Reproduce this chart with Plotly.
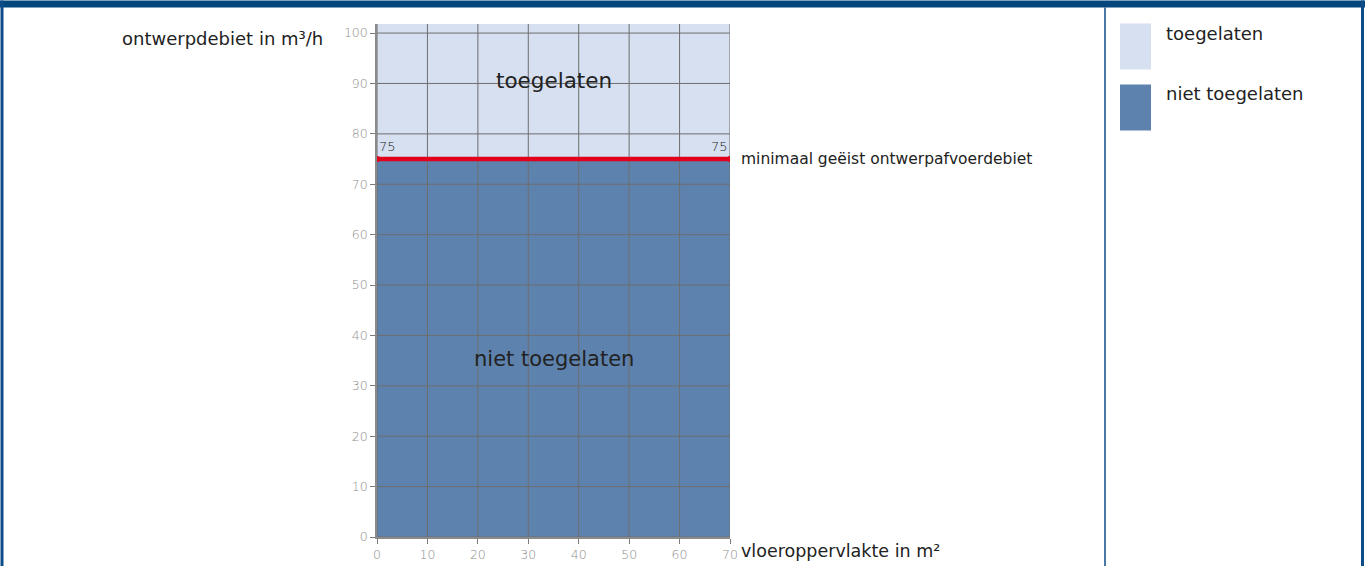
import plotly.graph_objects as go

# ---- data ----
x_ticks = [0, 10, 20, 30, 40, 50, 60, 70]
y_ticks = [0, 10, 20, 30, 40, 50, 60, 70, 80, 90, 100]
area_x = [0, 70]
min_debiet = [75, 75]
y_top = 101.8
labels_zones = ["toegelaten", "niet toegelaten"]
zone_colors = ["#d6e0f0", "#5d82ae"]
y_title = "ontwerpdebiet in m³/h"
x_title = "vloeroppervlakte in m²"
line_label = "minimaal geëist ontwerpafvoerdebiet"

W, H = 1365, 566
L, R, T, B = 377, 730, 23.5, 537
FONT = "DejaVu Sans"
TXT = "#222222"

def px(p):
    return (p - L) / (R - L)

def py(p):
    return (B - p) / (B - T)

fig = go.Figure()

# dark region (niet toegelaten) from 0 to 75
fig.add_trace(go.Scatter(x=area_x, y=min_debiet, mode="lines", fill="tozeroy",
                         fillcolor=zone_colors[1], line=dict(width=0),
                         hoverinfo="skip", showlegend=False))

# grid lines (drawn above the fill)
gx, gy = [], []
for v in x_ticks:
    gx += [v, v, None]
    gy += [0, y_top, None]
for v in y_ticks:
    gx += [area_x[0], area_x[-1], None]
    gy += [v, v, None]
fig.add_trace(go.Scatter(x=gx, y=gy, mode="lines", line=dict(color="#6e6e6e", width=1),
                         hoverinfo="skip", showlegend=False))

# red minimum line
fig.add_trace(go.Scatter(x=area_x, y=min_debiet, mode="lines+markers",
                         line=dict(color="#e2001a", width=4.5),
                         marker=dict(color="#e2001a", size=6),
                         hoverinfo="skip", showlegend=False))

annotations = [
    dict(x=area_x[0], y=min_debiet[0], xref="x", yref="y", text=str(min_debiet[0]),
         showarrow=False, xanchor="left", yanchor="bottom", xshift=0, yshift=3,
         font=dict(family=FONT, size=13, color=TXT, weight=300)),
    dict(x=area_x[-1], y=min_debiet[-1], xref="x", yref="y", text=str(min_debiet[-1]),
         showarrow=False, xanchor="right", yanchor="bottom", xshift=0, yshift=3,
         font=dict(family=FONT, size=13, color=TXT, weight=300)),
    dict(x=35, y=90.5, xref="x", yref="y", text=labels_zones[0], showarrow=False,
         font=dict(family=FONT, size=21.5, color=TXT)),
    dict(x=35, y=35.3, xref="x", yref="y", text=labels_zones[1], showarrow=False,
         font=dict(family=FONT, size=21, color=TXT)),
    dict(x=px(739), y=min_debiet[0], xref="paper", yref="y", text=line_label,
         showarrow=False, xanchor="left", yanchor="middle",
         font=dict(family=FONT, size=15.5, color=TXT)),
    dict(x=px(739), y=py(551), xref="paper", yref="paper", text=x_title,
         showarrow=False, xanchor="left", yanchor="middle",
         font=dict(family=FONT, size=17.5, color=TXT)),
    dict(x=px(325), y=py(38), xref="paper", yref="paper", text=y_title,
         showarrow=False, xanchor="right", yanchor="middle",
         font=dict(family=FONT, size=18, color=TXT)),
    dict(x=px(1164), y=py(33), xref="paper", yref="paper", text=labels_zones[0],
         showarrow=False, xanchor="left", yanchor="middle",
         font=dict(family=FONT, size=18, color=TXT)),
    dict(x=px(1164), y=py(93), xref="paper", yref="paper", text=labels_zones[1],
         showarrow=False, xanchor="left", yanchor="middle",
         font=dict(family=FONT, size=18, color=TXT)),
]

frame = "#0d4c89"
shapes = [
    # top band
    dict(type="rect", xref="paper", yref="paper", x0=px(0), x1=px(W), y0=py(0), y1=py(7),
         fillcolor="#02467e", line=dict(width=0), layer="above"),
    # left border
    dict(type="rect", xref="paper", yref="paper", x0=px(0.5), x1=px(3.5), y0=py(0), y1=py(H),
         fillcolor=frame, line=dict(width=0), layer="above"),
    # right border
    dict(type="rect", xref="paper", yref="paper", x0=px(1361), x1=px(1364), y0=py(0), y1=py(H),
         fillcolor=frame, line=dict(width=0), layer="above"),
    # divider
    dict(type="line", xref="paper", yref="paper", x0=px(1105), x1=px(1105), y0=py(7), y1=py(H),
         line=dict(color=frame, width=1.5), layer="above"),
    # legend swatches
    dict(type="rect", xref="paper", yref="paper", x0=px(1120), x1=px(1151), y0=py(23), y1=py(69),
         fillcolor=zone_colors[0], line=dict(width=0), layer="above"),
    dict(type="rect", xref="paper", yref="paper", x0=px(1120), x1=px(1151), y0=py(84), y1=py(130),
         fillcolor=zone_colors[1], line=dict(width=0), layer="above"),
]

tickfont = dict(family=FONT, size=12.5, color="#8e8e8e", weight=300)

fig.update_layout(
    width=W, height=H,
    margin=dict(l=L, r=W - R, t=T, b=H - B, pad=0, autoexpand=False),
    paper_bgcolor="white",
    plot_bgcolor=zone_colors[0],
    showlegend=False,
    annotations=annotations,
    shapes=shapes,
    xaxis=dict(range=[area_x[0], area_x[-1]], tickvals=x_ticks, ticks="outside", ticklen=5,
               tickcolor="#7a7a7a", showgrid=False, zeroline=False, showline=True,
               linecolor="#8a8a8a", linewidth=1.5, tickfont=tickfont, fixedrange=True,
               automargin=False),
    yaxis=dict(range=[0, y_top], tickvals=y_ticks, ticks="outside", ticklen=5,
               tickcolor="#7a7a7a", showgrid=False, zeroline=False, showline=True,
               linecolor="#8a8a8a", linewidth=1.5, tickfont=tickfont, fixedrange=True,
               automargin=False),
)

fig.write_html("out.html", config={"displayModeBar": False},
               post_script="document.body.style.margin='0';document.body.style.overflow='hidden';")
